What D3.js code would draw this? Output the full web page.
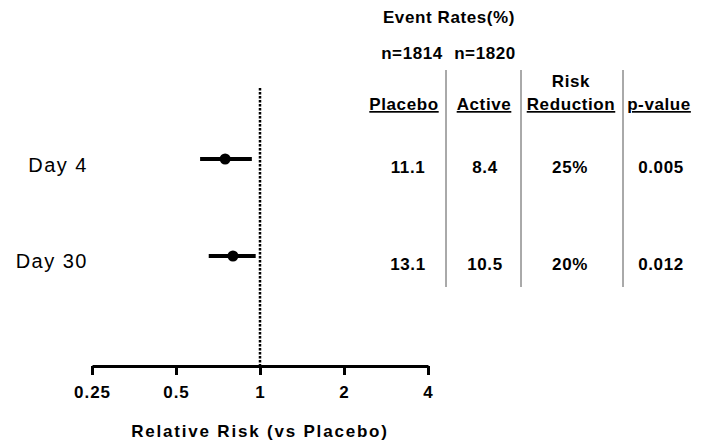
<!DOCTYPE html>
<html>
<head>
<meta charset="utf-8">
<script src="https://cdn.jsdelivr.net/npm/d3@7"></script>
<style>
  body { margin: 0; background: #fff; }
  text { font-family: "Liberation Sans", Arial, sans-serif; fill: #000; }
</style>
</head>
<body>
<div id="chart"></div>
<script>
// forest plot + event-rate table
const outcomes = ["Day 4", "Day 30"];
const relRisk = [0.75, 0.80];
const ciLow = [0.61, 0.655];
const ciHigh = [0.935, 0.965];
const tickValues = [0.25, 0.5, 1, 2, 4];
const tickLabels = ["0.25", "0.5", "1", "2", "4"];

const columns = ["Placebo", "Active", "Reduction", "p-value"];
const sampleSizes = ["n=1814", "n=1820"];
const placebo = ["11.1", "13.1"];
const active = ["8.4", "10.5"];
const riskReduction = ["25%", "20%"];
const pValue = ["0.005", "0.012"];

const width = 707, height = 448;
const svg = d3.select("#chart").append("svg")
  .attr("width", width).attr("height", height);

const x = d3.scaleLog().domain([0.25, 4]).range([92, 428]);
const y = d3.scalePoint().domain(outcomes).range([159, 256]);
const axisY = 366;

// reference line at RR = 1
svg.append("line")
  .attr("x1", x(1)).attr("x2", x(1))
  .attr("y1", 88).attr("y2", axisY)
  .attr("stroke", "#000").attr("stroke-width", 2.5)
  .attr("stroke-dasharray", "2.5,1.5");

// x axis
const axis = svg.append("g")
  .attr("transform", `translate(0,${axisY})`)
  .call(d3.axisBottom(x).tickValues(tickValues)
    .tickFormat((d, i) => tickLabels[i]).tickSize(9).tickPadding(8).tickSizeOuter(0));
axis.select(".domain").attr("stroke-width", 3);
axis.selectAll(".tick line").attr("stroke-width", 3);
axis.selectAll(".tick text")
  .attr("font-size", null).attr("font-family", null)
  .style("font-size", "17px").style("font-weight", "bold")
  .style("letter-spacing", "1px")
  .attr("dy", "0.9em");

svg.append("text")
  .attr("x", x(1)).attr("y", 437)
  .attr("text-anchor", "middle")
  .style("font-size", "17px").style("font-weight", "bold").style("letter-spacing", "1.8px")
  .text("Relative Risk (vs Placebo)");

// CI bars and points
const rows = outcomes.map((d, i) => ({ name: d, rr: relRisk[i], lo: ciLow[i], hi: ciHigh[i] }));
svg.selectAll(".ci").data(rows).enter().append("line")
  .attr("x1", d => x(d.lo)).attr("x2", d => x(d.hi))
  .attr("y1", d => y(d.name)).attr("y2", d => y(d.name))
  .attr("stroke", "#000").attr("stroke-width", 4);
svg.selectAll(".pt").data(rows).enter().append("circle")
  .attr("cx", d => x(d.rr)).attr("cy", d => y(d.name))
  .attr("r", 5.5).attr("fill", "#000");

svg.selectAll(".lab").data(rows).enter().append("text")
  .attr("x", 88).attr("y", (d, i) => y(d.name) + 13 - i)
  .attr("text-anchor", "end")
  .style("font-size", "20px").style("letter-spacing", "1.5px")
  .text(d => d.name);

// table
const colX = [404, 484, 571, 659];
const bold = sel => sel.style("font-weight", "bold").style("font-size", "17px")
  .style("letter-spacing", "0.6px").attr("text-anchor", "middle");

svg.append("text").attr("x", 449).attr("y", 23).call(bold).text("Event Rates(%)");
svg.selectAll(".n").data(sampleSizes).enter().append("text")
  .attr("x", (d, i) => [412, 485][i]).attr("y", 59).call(bold).text(d => d);
svg.append("text").attr("x", colX[2]).attr("y", 87).call(bold).text("Risk");
svg.selectAll(".hdr").data(columns).enter().append("text")
  .attr("x", (d, i) => colX[i]).attr("y", 110).call(bold)
  .style("text-decoration", "underline").text(d => d);

const cells = [placebo, active, riskReduction, pValue];
const cellX = [408, 485, 570, 661];
cells.forEach((col, c) => {
  svg.selectAll(".c" + c).data(col).enter().append("text")
    .attr("x", cellX[c]).attr("y", (d, i) => y(outcomes[i]) + 14)
    .call(bold).text(d => d);
});

// column separators
svg.selectAll(".sep").data([446, 521, 623]).enter().append("line")
  .attr("x1", d => d).attr("x2", d => d)
  .attr("y1", 70).attr("y2", 287)
  .attr("stroke", "#555").attr("stroke-width", 1);
</script>
</body>
</html>
